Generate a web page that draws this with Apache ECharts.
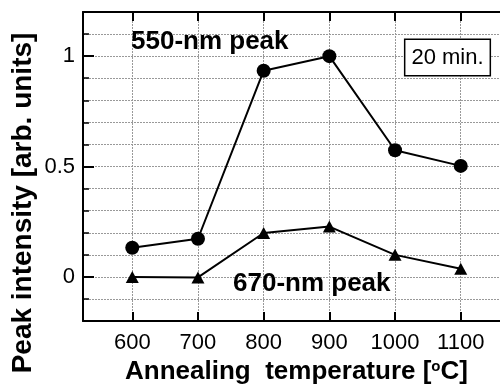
<!DOCTYPE html>
<html>
<head>
<meta charset="utf-8">
<script src="https://cdn.jsdelivr.net/npm/echarts@6/dist/echarts.min.js"></script>
<style>html,body{margin:0;padding:0;background:#fff;overflow:hidden;width:500px;height:390px;}#c{width:512px;height:390px;}</style>
</head>
<body>
<div id="c"></div>
<script>
var temperatures = [600, 700, 800, 900, 1000, 1100];
var peak550 = [0.132, 0.173, 0.934, 1.0, 0.574, 0.503];
var peak670 = [0.0, -0.002, 0.199, 0.228, 0.100, 0.037];
var xTickLabels = [600, 700, 800, 900, 1000, 1100];
var yTickLabels = [0, 0.5, 1];
var seriesNames = ['550-nm peak', '670-nm peak'];
var yTitle = 'Peak intensity [arb. units]';
var boxText = '20 min.';

var FONT = '"Liberation Sans", Arial, sans-serif';
var chart = echarts.init(document.getElementById('c'), null, {renderer: 'canvas'});
function pairs(xs, ys) { return xs.map(function (x, i) { return [x, ys[i]]; }); }
var gridLine = {show: true, lineStyle: {color: '#999', width: 1, type: [2, 1]}};
var axisLine = {show: true, onZero: false, lineStyle: {color: '#000', width: 2}};

var option = {
  animation: false,
  backgroundColor: '#fff',
  grid: {left: 83, top: 12, right: 2, bottom: 62, containLabel: false},
  xAxis: [
    {type: 'value', position: 'bottom', min: 525, max: 1175,
     axisLine: axisLine,
     axisTick: {show: true, inside: true, length: 9, customValues: xTickLabels, lineStyle: {color: '#000', width: 2}},
     axisLabel: {show: true, customValues: xTickLabels, margin: 11, color: '#000', fontSize: 22, fontFamily: FONT,
       formatter: function (v) { return String(v); }},
     splitLine: gridLine,
     name: 'Annealing  temperature [{sup|o}C]', nameLocation: 'middle', nameGap: 36,
     nameTextStyle: {color: '#000', fontSize: 26, fontWeight: 'bold', fontFamily: FONT,
       rich: {sup: {fontSize: 15, fontWeight: 'bold', fontFamily: FONT, color: '#000', verticalAlign: 'top', padding: [0, 0, 10, 0]}}}
    },
    {type: 'value', position: 'top', min: 525, max: 1175,
     axisLine: axisLine,
     axisTick: {show: true, inside: true, length: 9, customValues: xTickLabels, lineStyle: {color: '#000', width: 2}},
     axisLabel: {show: false}, splitLine: {show: false}}
  ],
  yAxis: [
    {type: 'value', position: 'left', min: -0.2, max: 1.2, interval: 0.1,
     axisLine: axisLine,
     axisTick: {show: true, inside: true, length: 6, lineStyle: {color: '#000', width: 1.5}},
     axisLabel: {show: false},
     splitLine: gridLine},
    {type: 'value', position: 'left', offset: 0, min: -0.2, max: 1.2,
     axisLine: {show: false},
     axisTick: {show: true, inside: true, length: 11, customValues: yTickLabels, lineStyle: {color: '#000', width: 2}},
     axisLabel: {show: true, customValues: yTickLabels, margin: 8, color: '#000', fontSize: 22, fontFamily: FONT},
     splitLine: {show: false}},
    {type: 'value', position: 'right', min: -0.2, max: 1.2, interval: 0.1,
     axisLine: axisLine,
     axisTick: {show: true, inside: true, length: 6, lineStyle: {color: '#000', width: 1.5}},
     axisLabel: {show: false}, splitLine: {show: false}}
  ],
  series: [
    {name: seriesNames[0], type: 'line', xAxisIndex: 0, yAxisIndex: 0,
     data: pairs(temperatures, peak550), symbol: 'circle', symbolSize: 14,
     itemStyle: {color: '#000'}, lineStyle: {color: '#000', width: 2}, z: 5},
    {name: seriesNames[1], type: 'line', xAxisIndex: 0, yAxisIndex: 0,
     data: pairs(temperatures, peak670), symbol: 'triangle', symbolSize: [13, 12],
     itemStyle: {color: '#000'}, lineStyle: {color: '#000', width: 2}, z: 5}
  ],
  graphic: [
    {type: 'text', left: 131, top: 29, z: 10,
     style: {text: seriesNames[0], fill: '#000', font: 'bold 26px ' + FONT}},
    {type: 'text', left: 233, top: 271, z: 10,
     style: {text: seriesNames[1], fill: '#000', font: 'bold 26px ' + FONT}},
    {type: 'text', x: 23, y: 203, rotation: Math.PI / 2, z: 10,
     style: {text: yTitle, fill: '#000', font: 'bold 28px ' + FONT, align: 'center', verticalAlign: 'middle'}},
    {type: 'text', x: 447.5, y: 57.5, z: 10,
     style: {text: boxText, fill: '#000', font: '22px ' + FONT, align: 'center', verticalAlign: 'middle',
       backgroundColor: '#fff', borderColor: '#000', borderWidth: 1.5, padding: [7, 6, 6, 6]}}
  ]
};
chart.setOption(option);
</script>
</body>
</html>
